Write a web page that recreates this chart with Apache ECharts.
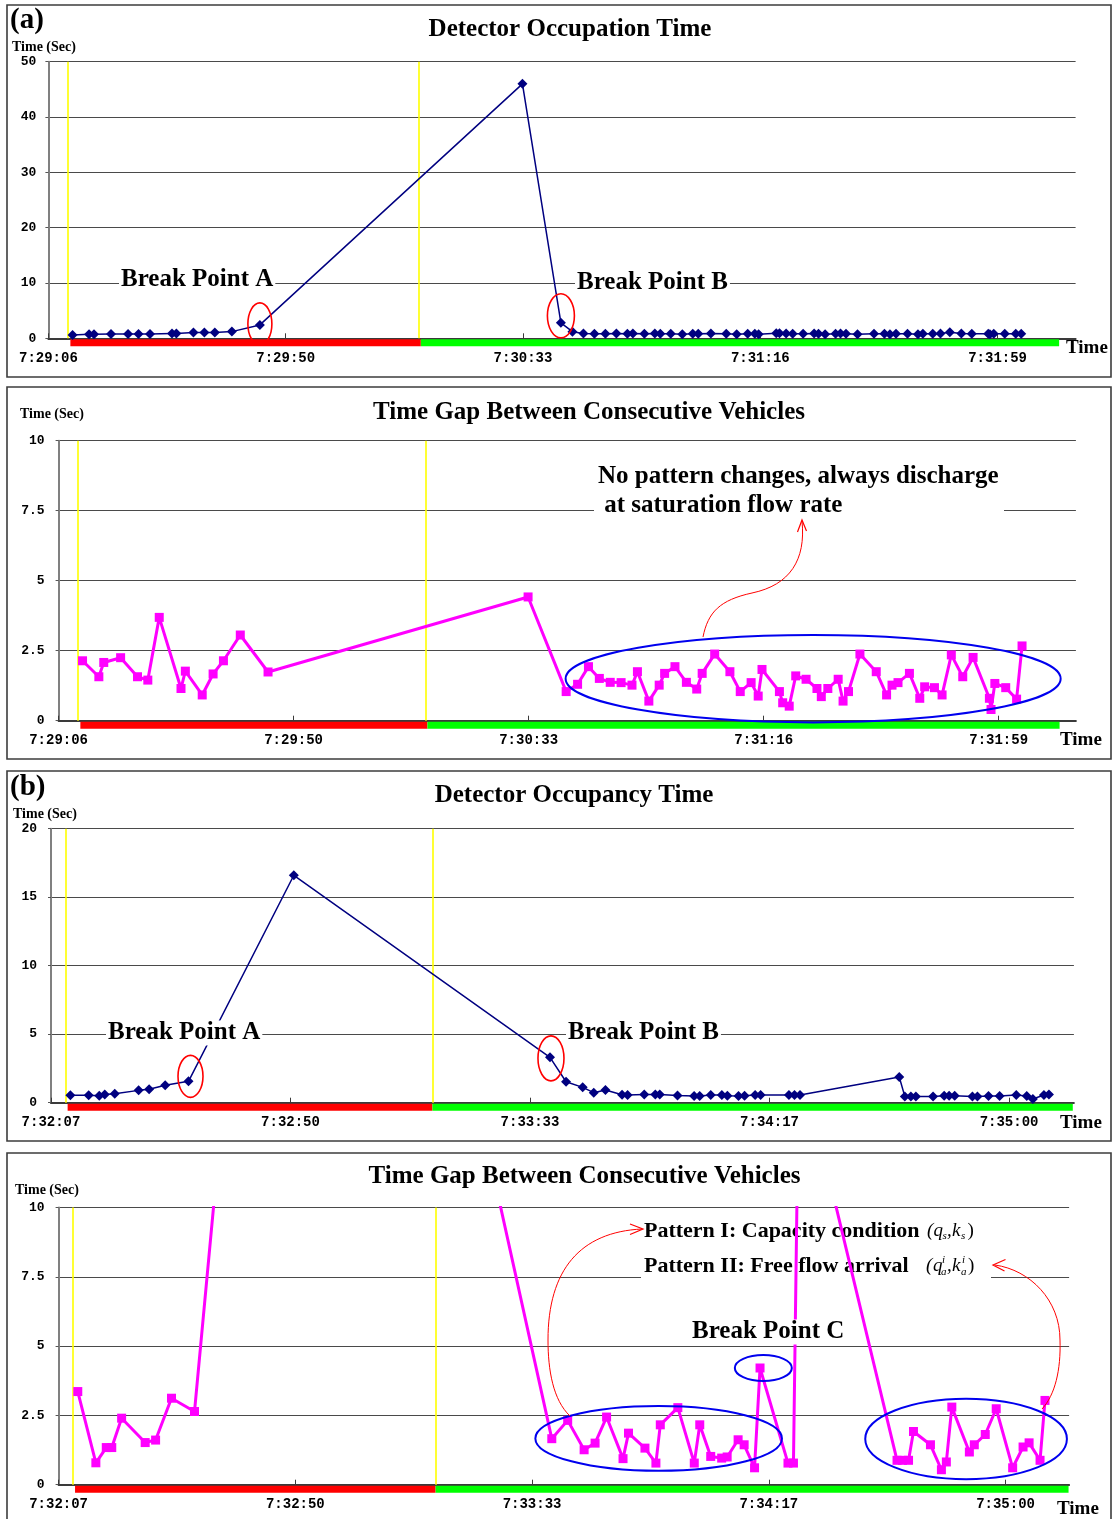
<!DOCTYPE html>
<html><head><meta charset="utf-8">
<script src="https://cdn.jsdelivr.net/npm/echarts@6/dist/echarts.min.js"></script>
<style>html,body{margin:0;padding:0;background:#fff}#c{width:1113px;height:1519px}</style>
</head><body><div id="c"></div>
<script>
// ---------- DATA ----------
const STEP = 43.2; // seconds between axis labels
const tickLabelsA = ['7:29:06','7:29:50','7:30:33','7:31:16','7:31:59'];
const tickLabelsB = ['7:32:07','7:32:50','7:33:33','7:34:17','7:35:00'];

// cycle (a): vehicle times (s after 7:29:06)
const timesA = [4.4, 7.4, 8.3, 11.4, 14.5, 16.4, 18.5, 22.5, 23.3, 26.4, 28.4, 30.3, 33.4, 38.5,
  86.3,
  93.3, 95.4, 97.4, 99.4, 101.4, 103.4, 105.4, 106.4, 108.5, 110.4, 111.4, 113.3, 115.4, 117.3, 118.3,
  120.6, 123.4, 125.3, 127.3, 128.6, 129.3, 132.5, 133.1, 134.3, 135.5, 137.4, 139.4, 140.2, 141.4,
  143.3, 144.2, 145.2, 147.3, 150.3, 152.2, 153.2, 154.3, 156.4, 158.3, 159.2, 161.0, 162.4, 164.1,
  166.2, 168.1, 171.1, 171.4, 172.1, 174.1, 176.1, 177.1];
const occA = [0.6, 0.73, 0.73, 0.79, 0.79, 0.79, 0.79, 0.85, 0.85, 1.03, 1.03, 1.03, 1.21, 2.42,
  46.0,
  2.8, 1.2, 0.85, 0.8, 0.8, 0.85, 0.8, 0.85, 0.8, 0.85, 0.8, 0.8, 0.75, 0.8, 0.8, 0.85, 0.8, 0.75,
  0.8, 0.8, 0.75, 0.9, 0.9, 0.85, 0.8, 0.8, 0.85, 0.8, 0.75, 0.8, 0.85, 0.8, 0.75, 0.8, 0.8, 0.75,
  0.8, 0.8, 0.75, 0.8, 0.8, 0.85, 1.1, 0.85, 0.8, 0.8, 0.75, 0.8, 0.8, 0.8, 0.8];
const gapA = [2.14, 1.57, 2.08, 2.25, 1.57, 1.45, 3.69, 1.15, 1.77, 0.92, 1.67, 2.14, 3.06, 1.74,
  4.42,
  1.04, 1.30, 1.93, 1.51, 1.37, 1.36, 1.27, 1.75, 0.70, 1.27, 1.69, 1.93, 1.37, 1.13, 1.69, 2.38,
  1.75, 1.04, 1.36, 0.88, 1.83, 1.04, 0.64, 0.52, 1.60, 1.48, 1.15, 0.86, 1.15, 1.48, 0.70, 1.04,
  2.38, 1.75, 0.92, 1.27, 1.36, 1.69, 0.80, 1.21, 1.18, 0.92, 2.35, 1.57, 2.26, 0.80, 0.40, 1.33,
  1.18, 0.77, 2.67];
const yellowA = [3.5, 67.4];
const redA = [4.0, 67.8];
const greenA = [67.8, 184.0];

// cycle (b): vehicle times (s after 7:32:07)
const timesB = [3.5, 6.8, 8.7, 9.7, 11.5, 15.8, 17.7, 20.6, 24.8,
  43.8,
  90.0, 92.9, 95.9, 97.9, 100.0, 103.0, 104.0, 107.0, 109.0, 109.8, 113.0, 116.0, 117.0, 119.0,
  121.0, 122.0, 124.0, 125.1, 127.0, 128.0,
  133.1, 134.1, 135.1,
  153.0, 154.0, 155.1, 156.0, 159.1, 161.1, 162.0, 163.0, 166.2, 167.1, 169.1, 171.1, 174.1, 176.0,
  177.1, 179.1, 180.0];
const occB = [0.54, 0.54, 0.51, 0.59, 0.66, 0.90, 0.98, 1.27, 1.56,
  16.6,
  3.31, 1.53, 1.12, 0.73, 0.93, 0.58, 0.56, 0.60, 0.60, 0.60, 0.53, 0.49, 0.49, 0.56, 0.56, 0.51,
  0.49, 0.51, 0.56, 0.56,
  0.56, 0.56, 0.56,
  1.88, 0.46, 0.46, 0.46, 0.46, 0.51, 0.51, 0.51, 0.46, 0.46, 0.49, 0.49, 0.56, 0.49, 0.27, 0.56, 0.60];
const gapB = [3.36, 0.79, 1.34, 1.34, 2.40, 1.52, 1.61, 3.12, 2.64,
  43,
  1.66, 2.32, 1.26, 1.50, 2.44, 0.94, 1.86, 1.32, 0.78, 2.16, 2.78, 0.78, 2.16, 1.02, 0.96, 1.00,
  1.62, 1.44, 0.61, 4.21,
  0.78, 0.78, 15.6,
  0.88, 0.88, 0.88, 1.92, 1.44, 0.54, 0.82, 2.80, 1.18, 1.44, 1.81, 2.74, 0.61, 1.36, 1.51, 0.88, 3.04];
const yellowB = [2.65, 68.9];
const redB = [3.0, 68.8];
const greenB = [68.8, 184.3];

// ---------- CHART ----------
const SERIF = '"Liberation Serif","Times New Roman",serif';
const MONO = '"Liberation Mono","DejaVu Sans Mono",monospace';
const tickValues = tickLabelsA.map((_, i) => i * STEP);
const zip = (t, v) => t.map((x, i) => [x, v[i]]);

const chart = echarts.init(document.getElementById('c'), null, {width: 1113, height: 1519});

const grids = [
  {left: 48.4, top: 61.7, width: 1027.2, height: 276.6},
  {left: 58.6, top: 440.7, width: 1017.3, height: 280},
  {left: 51, top: 828.7, width: 1022.9, height: 274},
  {left: 58.6, top: 1207.5, width: 1010.5, height: 277.2}
];
const xMax = [187, 187, 184.5, 184.4];
const yCfg = [{max: 50, interval: 10}, {max: 10, interval: 2.5}, {max: 20, interval: 5}, {max: 10, interval: 2.5}];
const labelSets = [tickLabelsA, tickLabelsA, tickLabelsB, tickLabelsB];

const xAxes = grids.map((g, i) => ({
  type: 'value', gridIndex: i, min: 0, max: xMax[i],
  axisLine: {show: true, onZero: false, lineStyle: {color: '#3a3a3a', width: 2}},
  axisTick: {show: true, inside: true, length: 5, customValues: tickValues, lineStyle: {color: '#3a3a3a', width: 1}},
  axisLabel: {customValues: tickValues, margin: 13, color: '#000', fontFamily: MONO, fontWeight: 'bold', fontSize: 14,
    formatter: v => labelSets[i][Math.round(v / STEP)] || ''},
  splitLine: {show: false}
}));
const yAxes = grids.map((g, i) => ({
  type: 'value', gridIndex: i, min: 0, max: yCfg[i].max, interval: yCfg[i].interval,
  axisLine: {show: true, lineStyle: {color: '#808080', width: 2}},
  axisTick: {show: true, length: 3, lineStyle: {color: '#555'}},
  axisLabel: {margin: i === 0 ? 12 : 14, color: '#000', fontFamily: MONO, fontWeight: 'bold', fontSize: 13},
  splitLine: {show: true, lineStyle: {color: '#4a4a4a', width: 1.2}}
}));

function lineSeries(i, t, v, kind, yellow) {
  const occ = kind === 'occ';
  return {
    type: 'line', xAxisIndex: i, yAxisIndex: i, data: zip(t, v), clip: true,
    symbol: occ ? 'diamond' : 'rect', symbolSize: occ ? [10, 10] : 9,
    lineStyle: {color: occ ? '#000080' : '#ff00ff', width: occ ? 1.5 : 3},
    itemStyle: {color: occ ? '#000080' : '#ff00ff'},
    z: 4,
    markLine: {silent: true, symbol: ['none', 'none'], label: {show: false}, z: 1,
      lineStyle: {color: '#ffff00', width: 1.6, type: 'solid', opacity: 1},
      emphasis: {disabled: true},
      data: yellow.map(x => ({xAxis: x}))}
  };
}
function phaseSeries(i, red, green) {
  return {
    type: 'custom', xAxisIndex: i, yAxisIndex: i, clip: false, silent: true, z: 3,
    dimensions: ['s', 'e', 'c'], encode: {x: [0, 1], y: 2},
    data: [[red[0], red[1], 0], [green[0], green[1], 1]],
    renderItem: (params, api) => {
      const a = api.coord([api.value(0), 0]);
      const b = api.coord([api.value(1), 0]);
      return {type: 'rect', shape: {x: a[0], y: a[1] + 1, width: b[0] - a[0], height: 7},
        style: {fill: api.value(2) ? '#00ff00' : '#ff0000'}};
    }
  };
}

chart.setOption({
  animation: false,
  grid: grids,
  xAxis: xAxes,
  yAxis: yAxes,
  series: [
    lineSeries(0, timesA, occA, 'occ', yellowA),
    lineSeries(1, timesA, gapA, 'gap', yellowA),
    lineSeries(2, timesB, occB, 'occ', yellowB),
    lineSeries(3, timesB, gapB, 'gap', yellowB),
    phaseSeries(0, redA, greenA),
    phaseSeries(1, redA, greenA),
    phaseSeries(2, redB, greenB),
    phaseSeries(3, redB, greenB)
  ]
});

// ---------- ANNOTATIONS ----------
const px = (i, p) => chart.convertToPixel({xAxisIndex: i, yAxisIndex: i}, p);
function T(x, y, text, size, o = {}) {
  const font = (o.italic ? 'italic ' : '') + (o.weight || 'bold') + ' ' + size + 'px ' + (o.family || SERIF);
  return {type: 'text', z: o.z == null ? 20 : o.z, style: {x, y, text, font, fill: '#000',
    align: o.align || 'left', textAlign: o.align || 'left', verticalAlign: 'middle', textVerticalAlign: 'middle',
    backgroundColor: o.bg, padding: o.pad}};
}
const g = [];
// panel frames
[[7, 5, 1104, 372], [7, 387, 1104, 372], [7, 771, 1104, 370], [7, 1153, 1104, 380]].forEach(r =>
  g.push({type: 'rect', z: 0, shape: {x: r[0], y: r[1], width: r[2], height: r[3]},
    style: {fill: 'none', stroke: '#3c3c3c', lineWidth: 1.6}}));

// titles & labels
g.push(T(10, 21, '(a)', 29));
g.push(T(10, 788, '(b)', 29));
g.push(T(570, 30, 'Detector Occupation Time', 25, {align: 'center'}));
g.push(T(589, 413, 'Time Gap Between Consecutive Vehicles', 25, {align: 'center'}));
g.push(T(574, 796, 'Detector Occupancy Time', 25, {align: 'center'}));
g.push(T(584.5, 1177, 'Time Gap Between Consecutive Vehicles', 25, {align: 'center'}));
g.push(T(12, 47, 'Time (Sec)', 14));
g.push(T(20, 414, 'Time (Sec)', 14));
g.push(T(13, 814, 'Time (Sec)', 14));
g.push(T(15, 1190, 'Time (Sec)', 14));
g.push(T(1066, 348, 'Time', 19));
g.push(T(1060, 740, 'Time', 19));
g.push(T(1060, 1123, 'Time', 19));
g.push(T(1057, 1509, 'Time', 19));

// break point labels (white background hides gridline)
g.push(T(119, 280, 'Break Point A', 25, {bg: '#fff', pad: [0, 2]}));
g.push(T(575, 283, 'Break Point B', 25, {bg: '#fff', pad: [0, 2]}));
g.push(T(106, 1033, 'Break Point A', 25, {bg: '#fff', pad: [0, 2]}));
g.push(T(566, 1033, 'Break Point B', 25, {bg: '#fff', pad: [0, 2]}));
g.push(T(690, 1332, 'Break Point C', 25, {bg: '#fff', pad: [0, 2]}));

// panel 2 note
g.push({type: 'rect', z: 1, shape: {x: 594, y: 462, width: 410, height: 53}, style: {fill: '#fff'}});
g.push(T(598, 477, 'No pattern changes, always discharge', 25, {z: 2}));
g.push(T(598, 506, ' at saturation flow rate', 25, {z: 2}));

// panel 4 patterns
g.push({type: 'rect', z: 1, shape: {x: 641, y: 1249, width: 350, height: 31}, style: {fill: '#fff'}});
g.push(T(644, 1231, 'Pattern I: Capacity condition', 22, {z: 2}));
g.push(T(644, 1266, 'Pattern II: Free flow arrival', 22, {z: 2}));
function mathSym(y, parts) {
  parts.forEach(p => g.push(T(p[0], y + (p[2] || 0), p[1], p[3] || 19, {italic: !p[4], weight: 'normal', z: 2})));
}
mathSym(1231, [[927, '('], [933.5, 'q'], [942.5, 's', 5, 11], [947, ','], [952, 'k'], [961, 's', 5, 11], [967.5, ')', 0, 19, true]]);
mathSym(1266, [[926, '('], [933, 'q'], [942, 'i', -6, 11], [941, 'a', 6, 11], [947, ','], [952, 'k'], [962, 'i', -6, 11], [961, 'a', 6, 11], [968, ')', 0, 19, true]]);

// red ellipses around break points: [grid, time, value, dx, dy, rx, ry]
const redRings = [
  [0, timesA[13], occA[13], 0, -1, 12, 21],
  [0, timesA[15], occA[15], 0, -7, 13.5, 22],
  [2, timesB[8], occB[8], 2, -5, 12.5, 21],
  [2, timesB[10], occB[10], 1, 1, 13, 22.5]
];
redRings.forEach(r => {
  const p = px(r[0], [r[1], r[2]]);
  g.push({type: 'ellipse', z: 20, shape: {cx: p[0] + r[3], cy: p[1] + r[4], rx: r[5], ry: r[6]},
    style: {fill: 'none', stroke: '#ff0000', lineWidth: 1.6}});
});
// blue ellipses in data units: [grid, cx, cy, rx, ry]
const blueRings = [
  [1, 138.7, 1.5, 45.5, 1.56],
  [3, 109.5, 1.67, 22.5, 1.17],
  [3, 165.6, 1.65, 18.4, 1.45],
  [3, 128.6, 4.21, 5.2, 0.47]
];
blueRings.forEach(r => {
  const c = px(r[0], [r[1], r[2]]);
  const e = px(r[0], [r[1] + r[3], r[2] + r[4]]);
  g.push({type: 'ellipse', z: 20, shape: {cx: c[0], cy: c[1], rx: e[0] - c[0], ry: c[1] - e[1]},
    style: {fill: 'none', stroke: '#0000ee', lineWidth: 2}});
});

// red curved arrows
function bez(a, b, c, d) {
  g.push({type: 'bezierCurve', z: 20, shape: {x1: a[0], y1: a[1], cpx1: b[0], cpy1: b[1], cpx2: c[0], cpy2: c[1], x2: d[0], y2: d[1]},
    style: {fill: 'none', stroke: '#ff0000', lineWidth: 1}});
}
function head(pts) {
  g.push({type: 'polyline', z: 20, shape: {points: pts}, style: {fill: 'none', stroke: '#ff0000', lineWidth: 1.2}});
}
bez([703, 637], [708, 612], [720, 600], [752, 593]);
bez([752, 593], [790, 585], [806, 560], [802, 521]);
head([[797.5, 532], [802, 520], [806.5, 531]]);

bez([570, 1416], [553, 1400], [548, 1370], [548, 1340]);
bez([548, 1340], [548, 1270], [580, 1232], [642, 1229]);
head([[630, 1224], [643, 1229], [630, 1234.5]]);

bez([1042, 1409], [1055, 1395], [1061, 1370], [1060, 1340]);
bez([1060, 1340], [1060, 1300], [1030, 1270], [995, 1265]);
head([[1005.5, 1259.5], [993, 1265], [1004.5, 1271]]);

chart.setOption({graphic: g});
</script>
</body></html>
